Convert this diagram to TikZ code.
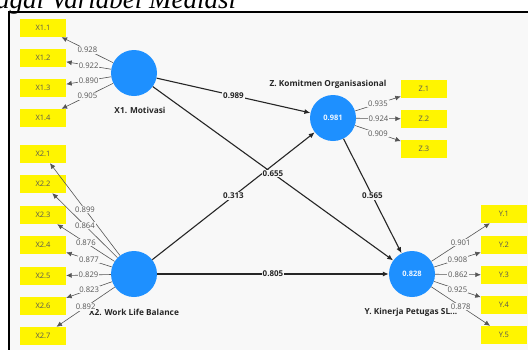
\documentclass[tikz,border=0pt]{standalone}
\usepackage{fontspec}
\setmainfont{Liberation Serif}
\setsansfont{Open Sans}
\usetikzlibrary{positioning}
\usetikzlibrary{arrows.meta}
\definecolor{plsblue}{RGB}{30,144,255}
\definecolor{plsyellow}{RGB}{255,245,0}
\definecolor{plsbg}{RGB}{248,248,248}
\definecolor{plsgray}{RGB}{85,85,85}
\tikzset{
    mylatent/.style = {circle, minimum size=46pt, inner sep=0pt, fill=plsblue, font=\sffamily\bfseries\fontsize{7.5}{9}\selectfont, text=white!92!plsblue},
    myind/.style = {rectangle, minimum width=46pt, minimum height=18pt, inner sep=0pt, fill=plsyellow, font=\sffamily\fontsize{7.5}{9}\selectfont, text=plsgray},
    mylabel/.style = {font=\sffamily\bfseries\fontsize{8.3}{10}\selectfont, text=black!85, inner sep=1pt},
    edgep/.style = {-{Latex[length=6pt,width=5pt]}, line width=1.1pt, black!85}, % path
    edgel/.style = {-{Latex[length=5.5pt,width=5pt]}, line width=0.6pt, plsgray}, % loading
    coefp/.style = {midway, fill=plsbg, inner sep=1pt, font=\sffamily\bfseries\fontsize{8}{9}\selectfont, text=black!85},
    coefl/.style = {midway, fill=plsbg, inner sep=0.8pt, font=\sffamily\fontsize{7.7}{9}\selectfont, text=plsgray}
}

\begin{document}
\begin{tikzpicture}[x=1pt, y=-1pt]
  \useasboundingbox (0,0) rectangle (528,349);
  \fill[white] (0,0) rectangle (528,349);
  \fill[plsbg] (9,12) rectangle (540,360);
  \draw[line width=1.6pt] (9,360) -- (9,12) -- (540,12);
  \node[anchor=base west, inner sep=0pt, font=\itshape\fontsize{27}{29}\selectfont] (title) at (-4,8) {agai Variabel Mediasi};

  % latent variables
  \node[mylatent] (X1) at (134,73) {};
  \node[mylatent] (X2) at (134,274) {};
  \node[mylatent] (Z) at (333,118) {0.981};
  \node[mylatent] (Y) at (412,274) {0.828};
  \node[mylabel] (X1lab) at (140,110) {X1. Motivasi};
  \node[mylabel] (Zlab) at (328,84) {Z. Komitmen Organisasional};
  \node[mylabel] (X2lab) at (134,312) {X2. Work Life Balance};
  \node[mylabel] (Ylab) at (411,312) {Y. Kinerja Petugas SL...};

  % indicators
  \node[myind] (X11) at (43,28) {X1.1};
  \node[myind] (X12) at (43,58) {X1.2};
  \node[myind] (X13) at (43,88) {X1.3};
  \node[myind] (X14) at (43,118) {X1.4};
  \node[myind] (X21) at (43,154) {X2.1};
  \node[myind] (X22) at (43,184) {X2.2};
  \node[myind] (X23) at (43,215) {X2.3};
  \node[myind] (X24) at (43,245) {X2.4};
  \node[myind] (X25) at (43,276) {X2.5};
  \node[myind] (X26) at (43,306) {X2.6};
  \node[myind] (X27) at (43,336) {X2.7};
  \node[myind] (Z1) at (424,89) {Z.1};
  \node[myind] (Z2) at (424,119) {Z.2};
  \node[myind] (Z3) at (424,149) {Z.3};
  \node[myind] (Y1) at (504,214) {Y.1};
  \node[myind] (Y2) at (504,245) {Y.2};
  \node[myind] (Y3) at (504,275) {Y.3};
  \node[myind] (Y4) at (504,305) {Y.4};
  \node[myind] (Y5) at (504,335) {Y.5};

  % outer loadings
  \draw[edgel] (X1) -- node[coefl] {0.928} (X11);
  \draw[edgel] (X1) -- node[coefl] {0.922} (X12);
  \draw[edgel] (X1) -- node[coefl] {0.890} (X13);
  \draw[edgel] (X1) -- node[coefl] {0.905} (X14);
  \draw[edgel] (X2) -- node[coefl] {0.899} (X21);
  \draw[edgel] (X2) -- node[coefl] {0.864} (X22);
  \draw[edgel] (X2) -- node[coefl] {0.876} (X23);
  \draw[edgel] (X2) -- node[coefl] {0.877} (X24);
  \draw[edgel] (X2) -- node[coefl] {0.829} (X25);
  \draw[edgel] (X2) -- node[coefl] {0.823} (X26);
  \draw[edgel] (X2) -- node[coefl] {0.892} (X27);
  \draw[edgel] (Z) -- node[coefl] {0.935} (Z1);
  \draw[edgel] (Z) -- node[coefl] {0.924} (Z2);
  \draw[edgel] (Z) -- node[coefl] {0.909} (Z3);
  \draw[edgel] (Y) -- node[coefl] {0.901} (Y1);
  \draw[edgel] (Y) -- node[coefl] {0.908} (Y2);
  \draw[edgel] (Y) -- node[coefl] {0.862} (Y3);
  \draw[edgel] (Y) -- node[coefl] {0.925} (Y4);
  \draw[edgel] (Y) -- node[coefl] {0.878} (Y5);

  % path coefficients
  \draw[edgep] (X1) -- node[coefp] {0.989} (Z);
  \draw[edgep] (X2) -- node[coefp] {0.313} (Z);
  \draw[edgep] (X1) -- node[coefp] {0.655} (Y);
  \draw[edgep] (Z) -- node[coefp] {0.565} (Y);
  \draw[edgep] (X2) -- node[coefp] {0.805} (Y);
\end{tikzpicture}
\end{document}
